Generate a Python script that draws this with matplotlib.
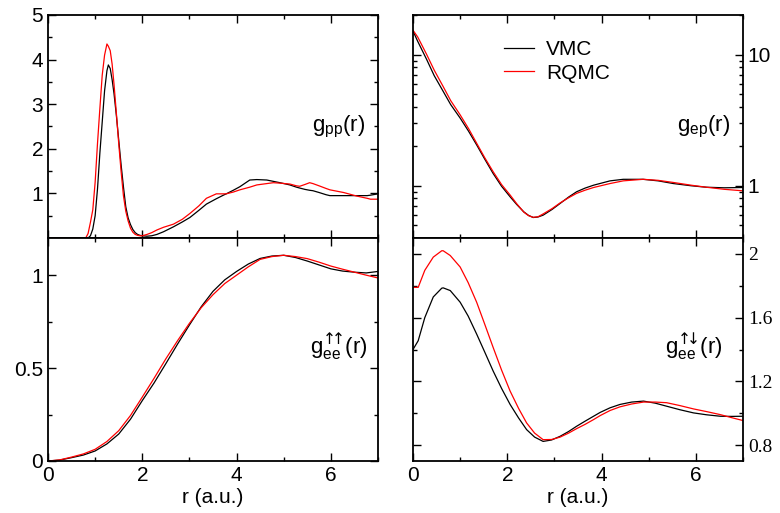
import numpy as np
import matplotlib
matplotlib.use('Agg')
import matplotlib.pyplot as plt
from matplotlib.ticker import MultipleLocator, LogLocator, NullFormatter, FixedLocator

plt.rcParams['font.family'] = ['Liberation Sans', 'DejaVu Sans']
plt.rcParams['mathtext.fontset'] = 'custom'
plt.rcParams['mathtext.rm'] = 'Liberation Sans'
plt.rcParams['mathtext.it'] = 'Liberation Sans'
plt.rcParams['mathtext.sf'] = 'DejaVu Sans'

# g_pp(r)
r_pp = [0.0, 0.8, 0.85, 0.9, 0.95, 1.0, 1.05, 1.1, 1.15, 1.2, 1.25, 1.28, 1.32, 1.36, 1.4, 1.45,
        1.5, 1.55, 1.6, 1.65, 1.7, 1.75, 1.8, 1.85, 1.9, 1.95, 2.0, 2.1, 2.2, 2.31, 2.45, 2.66,
        2.85, 3.01, 3.2, 3.36, 3.57, 3.72, 3.78, 3.93, 4.07, 4.28, 4.43, 4.64, 4.78, 4.92, 5.13,
        5.27, 5.34, 5.45, 5.55, 5.62, 5.75, 5.9, 5.98, 6.27, 6.34, 6.55, 6.77, 6.84, 7.0]
gpp_vmc = [0.0, 0.0, 0.0, 0.05, 0.2, 0.5, 1.1, 1.9, 2.6, 3.3, 3.75, 3.88, 3.8, 3.55, 3.24, 2.75,
           2.2, 1.65, 1.15, 0.7, 0.45, 0.3, 0.19, 0.12, 0.08, 0.06, 0.05, 0.04, 0.05, 0.08, 0.14, 0.25,
           0.36, 0.46, 0.62, 0.76, 0.88, 0.96, 0.99, 1.07, 1.15, 1.30, 1.31, 1.30, 1.27, 1.24, 1.19,
           1.14, 1.12, 1.09, 1.07, 1.06, 1.02, 0.97, 0.95, 0.95, 0.95, 0.95, 0.95, 0.96, 0.99]
gpp_rqmc = [0.0, 0.0, 0.1, 0.35, 0.63, 1.25, 2.12, 2.9, 3.65, 4.1, 4.35, 4.3, 4.2, 3.9, 3.45, 2.8,
            2.12, 1.5, 0.95, 0.6, 0.38, 0.22, 0.13, 0.08, 0.06, 0.05, 0.05, 0.08, 0.12, 0.18, 0.24, 0.31,
            0.42, 0.55, 0.72, 0.89, 0.99, 0.99, 0.99, 1.03, 1.08, 1.14, 1.19, 1.22, 1.24, 1.23, 1.21,
            1.17, 1.16, 1.2, 1.24, 1.22, 1.17, 1.11, 1.08, 1.02, 1.0, 0.94, 0.89, 0.87, 0.87]

# g_ep(r)
r_ep = [0.0, 0.1, 0.29, 0.45, 0.64, 0.8, 1.0, 1.18, 1.35, 1.52, 1.7, 1.88, 2.06, 2.2, 2.35, 2.45,
        2.55, 2.65, 2.76, 2.95, 3.12, 3.3, 3.47, 3.65, 3.83, 4.18, 4.46, 4.88, 5.2, 5.52, 5.9, 6.22, 6.6, 7.0]
gep_vmc = [15.1, 12.6, 9.16, 6.9, 5.24, 4.15, 3.28, 2.6, 2.05, 1.6, 1.24, 0.99, 0.824, 0.72, 0.633, 0.595,
           0.573, 0.578, 0.597, 0.66, 0.733, 0.82, 0.90, 0.96, 1.01, 1.09, 1.12, 1.12, 1.09, 1.04, 1.0, 0.975, 0.965, 0.97]
gep_rqmc = [15.3, 13.6, 10.0, 7.6, 5.7, 4.45, 3.47, 2.72, 2.11, 1.64, 1.28, 1.02, 0.85, 0.73, 0.63, 0.592,
            0.575, 0.58, 0.61, 0.67, 0.74, 0.81, 0.875, 0.925, 0.97, 1.04, 1.09, 1.12, 1.10, 1.06, 1.01, 0.975, 0.94, 0.915]

# g_ee up-up
r_uu = [0.0, 0.25, 0.5, 0.75, 1.0, 1.25, 1.5, 1.75, 2.0, 2.25, 2.5, 2.75, 3.0, 3.25, 3.5, 3.75,
        4.0, 4.25, 4.5, 4.75, 5.0, 5.25, 5.5, 5.75, 6.0, 6.25, 6.5, 6.75, 7.0]
guu_vmc = [0.0, 0.005, 0.018, 0.032, 0.054, 0.092, 0.145, 0.225, 0.325, 0.42, 0.524, 0.63, 0.732, 0.83, 0.913, 0.975,
           1.02, 1.06, 1.09, 1.103, 1.107, 1.095, 1.076, 1.055, 1.034, 1.022, 1.016, 1.012, 1.02]
guu_rqmc = [0.0, 0.006, 0.021, 0.038, 0.063, 0.105, 0.163, 0.245, 0.344, 0.445, 0.55, 0.648, 0.741, 0.825, 0.895, 0.955,
            1.0, 1.045, 1.085, 1.1, 1.107, 1.1, 1.089, 1.07, 1.049, 1.032, 1.016, 1.0, 0.985]

# g_ee up-down
r_ud = [0.0, 0.11, 0.25, 0.43, 0.61, 0.64, 0.79, 1.0, 1.17, 1.35, 1.52, 1.7, 1.88, 2.06, 2.24, 2.41,
        2.58, 2.76, 2.94, 3.12, 3.3, 3.47, 3.65, 3.83, 3.97, 4.18, 4.39, 4.64, 4.89, 5.14, 5.38,
        5.66, 5.95, 6.23, 6.52, 6.76, 7.0]
gud_vmc = [1.40, 1.455, 1.60, 1.73, 1.785, 1.787, 1.77, 1.697, 1.61, 1.497, 1.385, 1.265, 1.155, 1.055, 0.97, 0.897,
           0.85, 0.823, 0.832, 0.855, 0.885, 0.918, 0.95, 0.981, 1.005, 1.034, 1.055, 1.07, 1.076, 1.063, 1.044,
           1.022, 1.002, 0.99, 0.981, 0.98, 0.981]
gud_rqmc = [1.79, 1.79, 1.897, 1.98, 2.02, 2.02, 1.99, 1.918, 1.82, 1.697, 1.56, 1.413, 1.27, 1.139, 1.03, 0.939,
            0.875, 0.834, 0.835, 0.85, 0.875, 0.903, 0.93, 0.96, 0.985, 1.017, 1.04, 1.058, 1.07, 1.07, 1.066,
            1.048, 1.027, 1.01, 0.991, 0.972, 0.954]

fig = plt.figure(figsize=(7.8, 5.13), dpi=100)
W, H = 780.0, 513.0
def box(x0, x1, y0, y1):
    return [x0 / W, 1 - y1 / H, (x1 - x0) / W, (y1 - y0) / H]

ax1 = fig.add_axes(box(48, 378, 15, 238))
ax2 = fig.add_axes(box(413, 743, 15, 238))
ax3 = fig.add_axes(box(48, 378, 238, 461))
ax4 = fig.add_axes(box(413, 743, 238, 461))

lw = 0.9
ax1.plot(r_pp, gpp_vmc, color='black', lw=lw)
ax1.plot(r_pp, gpp_rqmc, color='red', lw=lw)
ax2.plot(r_ep, gep_vmc, color='black', lw=lw, label='VMC')
ax2.plot(r_ep, gep_rqmc, color='red', lw=lw, label='RQMC')
ax3.plot(r_uu, guu_vmc, color='black', lw=lw)
ax3.plot(r_uu, guu_rqmc, color='red', lw=lw)
ax4.plot(r_ud, gud_vmc, color='black', lw=lw)
ax4.plot(r_ud, gud_rqmc, color='red', lw=lw)

fs = 15
for ax in (ax1, ax2, ax3, ax4):
    ax.set_xlim(0, 7)
    ax.xaxis.set_major_locator(MultipleLocator(2))
    ax.xaxis.set_minor_locator(MultipleLocator(1))
    ax.tick_params(which='both', direction='in', top=True, right=True, labelsize=fs, width=1.0)
    ax.tick_params(which='major', length=6)
    ax.tick_params(which='minor', length=3)
    for s in ax.spines.values():
        s.set_linewidth(1.3)

for ax in (ax1, ax2):
    ax.tick_params(labelbottom=False)

ax1.set_ylim(0, 5)
ax1.yaxis.set_major_locator(FixedLocator([1, 2, 3, 4, 5]))
ax1.yaxis.set_minor_locator(MultipleLocator(0.5))

ax2.set_yscale('log')
ax2.set_ylim(0.4, 20)
ax2.yaxis.set_major_locator(FixedLocator([1, 10]))
ax2.yaxis.set_major_formatter(plt.FuncFormatter(lambda v, p: '%d' % v))
ax2.yaxis.set_minor_locator(LogLocator(base=10, subs=np.arange(2, 10)))
ax2.yaxis.set_minor_formatter(NullFormatter())
ax2.tick_params(axis='y', labelleft=False, labelright=True)

ax3.set_ylim(0, 1.2)
ax3.yaxis.set_major_locator(FixedLocator([0, 0.5, 1]))
ax3.yaxis.set_major_formatter(plt.FuncFormatter(lambda v, p: '%g' % v))
ax3.yaxis.set_minor_locator(MultipleLocator(0.25))

ax4.set_ylim(0.7, 2.1)
ax4.yaxis.set_major_locator(FixedLocator([0.8, 1.2, 1.6, 2.0]))
ax4.yaxis.set_major_formatter(plt.FuncFormatter(lambda v, p: '%g' % v))
ax4.yaxis.set_minor_locator(MultipleLocator(0.2))
ax4.tick_params(axis='y', labelleft=False, labelright=True)
for t in ax4.get_yticklabels():
    t.set_fontfamily('Liberation Serif')
    t.set_fontsize(14)

for ax in (ax3, ax4):
    ax.set_xlabel('r (a.u.)', fontsize=fs, labelpad=2)

ax1.text(0.88, 0.48, r'$\mathregular{g_{pp}(r)}$', transform=ax1.transAxes, fontsize=16, ha='center')
ax2.text(0.88, 0.48, r'$\mathregular{g_{ep}(r)}$', transform=ax2.transAxes, fontsize=16, ha='center')
ax3.text(0.88, 0.48, r'$\mathregular{g_{ee}^{\mathsf{↑}\!\!\mathsf{↑}}(r)}$', transform=ax3.transAxes, fontsize=16, ha='center')
ax4.text(0.85, 0.48, r'$\mathregular{g_{ee}^{\mathsf{↑}\!\!\mathsf{↓}}(r)}$', transform=ax4.transAxes, fontsize=16, ha='center')

ax2.legend(loc='upper left', bbox_to_anchor=(0.22, 0.97), frameon=False, fontsize=15,
           handlelength=1.4, handletextpad=0.6, labelspacing=0.2)

fig.savefig('out.png', dpi=100)
